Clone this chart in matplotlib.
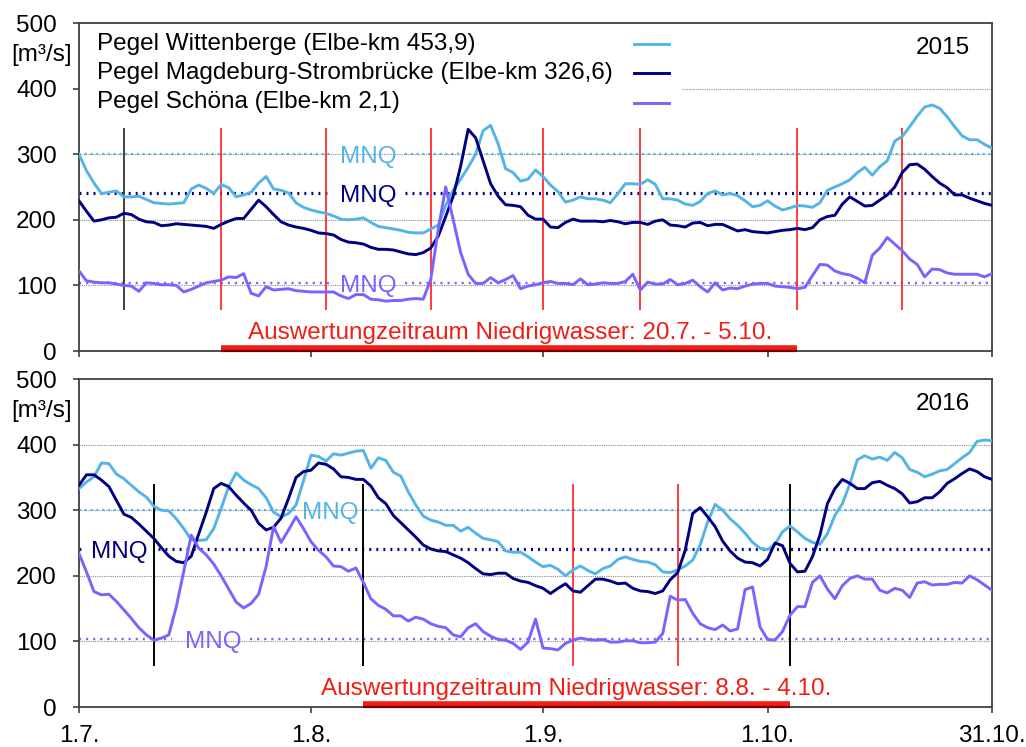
import numpy as np
import matplotlib
matplotlib.use("Agg")
import matplotlib.pyplot as plt
from matplotlib.lines import Line2D
import matplotlib.transforms as mtrans

plt.rcParams['font.family'] = ['Liberation Sans', 'DejaVu Sans']
plt.rcParams['font.size'] = 17.5

# Tage ab 1.7. (Tag 0) bis 31.10. (Tag 122)
tage = np.arange(123)
tick_pos = [0, 31, 62, 92, 122]
tick_lab = ['1.7.', '1.8.', '1.9.', '1.10.', '31.10.']

namen = ['Pegel Wittenberge (Elbe-km 453,9)',
         'Pegel Magdeburg-Strombrücke (Elbe-km 326,6)',
         'Pegel Schöna (Elbe-km 2,1)']
farben = ['#55B4E6', '#000080', '#7B63FF']
mnq = [300, 241, 103]

# Tagesabfluss 2015 [m3/s]
wit15 = [300, 275, 256, 240, 242, 244, 235, 235, 236, 231,
         226, 225, 224, 225, 226, 247, 253, 248, 240, 254,
         249, 235, 238, 242, 256, 266, 247, 245, 241, 226,
         219, 215, 212, 210, 206, 201, 200, 201, 203, 196,
         190, 188, 186, 184, 181, 180, 180, 186, 192, 222,
         245, 262, 280, 300, 336, 344, 316, 278, 272, 259,
         262, 276, 266, 253, 243, 227, 230, 235, 232, 232,
         230, 226, 240, 255, 255, 254, 261, 254, 232, 232,
         230, 224, 222, 228, 240, 244, 238, 240, 237, 229,
         220, 222, 229, 221, 215, 218, 222, 221, 219, 226,
         245, 250, 255, 261, 272, 280, 268, 281, 290, 320,
         327, 342, 358, 372, 375, 370, 357, 342, 328, 322,
         322, 315, 309]
mag15 = [229, 213, 198, 200, 203, 204, 210, 208, 201, 197,
         196, 191, 192, 194, 193, 192, 191, 190, 187, 193,
         198, 202, 202, 216, 230, 220, 208, 197, 192, 189,
         187, 184, 180, 179, 177, 170, 166, 165, 163, 158,
         155, 155, 154, 151, 148, 147, 150, 157, 175, 205,
         236, 282, 338, 325, 290, 255, 236, 223, 222, 220,
         207, 201, 201, 189, 188, 196, 201, 198, 198, 198,
         197, 199, 197, 194, 196, 196, 193, 198, 200, 192,
         191, 189, 195, 196, 191, 193, 193, 188, 183, 185,
         182, 181, 180, 182, 184, 185, 187, 185, 188, 200,
         205, 207, 224, 235, 228, 221, 222, 230, 238, 250,
         272, 284, 285, 277, 266, 256, 249, 238, 238, 233,
         229, 225, 222]
sch15 = [122, 107, 105, 104, 104, 102, 100, 99, 91, 104,
         103, 101, 101, 100, 90, 94, 99, 104, 106, 108,
         113, 112, 118, 88, 84, 98, 93, 94, 95, 92,
         91, 90, 90, 90, 90, 84, 80, 86, 86, 79,
         78, 76, 77, 77, 79, 80, 79, 109, 185, 250,
         200, 150, 117, 103, 103, 112, 104, 109, 115, 95,
         99, 101, 104, 106, 103, 103, 101, 110, 101, 102,
         104, 103, 103, 106, 117, 93, 105, 102, 102, 109,
         101, 103, 108, 98, 90, 104, 93, 96, 95, 99,
         102, 103, 103, 99, 98, 97, 95, 97, 115, 132,
         131, 122, 118, 116, 111, 104, 146, 157, 173, 163,
         153, 140, 132, 113, 125, 124, 119, 117, 117, 117,
         117, 113, 118]

# Tagesabfluss 2016 [m3/s]
wit16 = [333, 343, 351, 372, 371, 355, 348, 338, 328, 320,
         306, 300, 299, 287, 272, 255, 254, 255, 272, 303,
         336, 357, 346, 339, 333, 319, 297, 290, 295, 308,
         345, 384, 382, 375, 386, 384, 387, 390, 391, 364,
         380, 376, 358, 352, 328, 308, 291, 285, 282, 277,
         277, 268, 274, 265, 257, 255, 252, 238, 236, 236,
         229, 221, 214, 216, 210, 200, 209, 215, 208, 203,
         211, 215, 225, 229, 225, 222, 221, 217, 206, 205,
         209, 215, 224, 247, 282, 309, 300, 287, 277, 265,
         251, 242, 240, 248, 267, 276, 267, 257, 251, 248,
         264, 292, 310, 340, 377, 383, 378, 381, 376, 388,
         380, 362, 358, 351, 355, 360, 362, 371, 380, 388,
         405, 407, 406]
mag16 = [338, 354, 354, 346, 336, 315, 294, 289, 279, 268,
         257, 243, 230, 222, 220, 230, 264, 297, 333, 341,
         336, 323, 311, 300, 280, 270, 274, 288, 318, 350,
         359, 361, 372, 370, 363, 351, 350, 347, 347, 337,
         319, 310, 292, 281, 270, 259, 247, 241, 238, 237,
         232, 227, 220, 211, 203, 202, 204, 204, 196, 192,
         190, 185, 181, 173, 181, 188, 177, 175, 185, 195,
         195, 192, 188, 189, 181, 177, 176, 173, 177, 194,
         205, 239, 295, 304, 290, 275, 253, 238, 227, 221,
         220, 215, 225, 250, 246, 219, 206, 207, 229, 262,
         310, 333, 347, 341, 333, 333, 342, 344, 338, 333,
         325, 311, 313, 319, 319, 328, 341, 348, 356, 363,
         359, 351, 347]
sch16 = [234, 206, 176, 171, 172, 161, 148, 135, 121, 110,
         102, 105, 110, 153, 207, 262, 242, 232, 218, 200,
         180, 160, 151, 158, 172, 214, 275, 251, 270, 290,
         272, 252, 239, 229, 215, 214, 207, 212, 190, 165,
         155, 149, 139, 139, 131, 137, 134, 127, 123, 121,
         110, 107, 121, 127, 115, 108, 103, 102, 97, 88,
         99, 134, 90, 89, 87, 97, 102, 105, 103, 102,
         103, 99, 99, 101, 101, 98, 98, 99, 112, 169,
         163, 164, 143, 127, 121, 118, 125, 116, 119, 179,
         183, 122, 103, 102, 115, 140, 153, 153, 190, 200,
         180, 165, 185, 196, 200, 195, 195, 178, 174, 181,
         178, 167, 189, 191, 186, 187, 187, 190, 189, 200,
         194, 186, 178]

# Messtermine (senkrechte Linien), Auswertungszeitraum
rot15, schwarz15 = [19, 33, 47, 62, 75, 96, 110], [6]
rot16, schwarz16 = [66, 80], [10, 38, 95]
zeitraum15, zeitraum16 = (19, 96), (38, 95)
text15 = 'Auswertungzeitraum Niedrigwasser: 20.7. - 5.10.'
text16 = 'Auswertungzeitraum Niedrigwasser: 8.8. - 4.10.'
# MNQ-Beschriftung: (Tag der Beschriftung, Lücke von, Lücke bis)
mnq15 = [(38.7, 33.8, 43.6), (38.7, 33.8, 43.6), (38.7, 33.8, 43.6)]
mnq16 = [(33.6, 29.3, 38.2), (5.4, 0.8, 10.6), (18.0, 12.4, 22.9)]

mnq_stil = [dict(lw=1.6, ls=(0, (0.9, 1.7))),
            dict(lw=2.3, ls=(0, (0.6, 1.6))),
            dict(lw=1.7, ls=(0, (0.9, 2.1)))]

fig = plt.figure(figsize=(10.26, 7.47), dpi=100)
ax1 = fig.add_axes([0.0770, 0.5301, 0.8899, 0.4391])
ax2 = fig.add_axes([0.0770, 0.0535, 0.8899, 0.4391])


def panel(ax, reihen, jahr, mnq_pos, rote, schwarze, schwarz_farbe, zeitraum, text, text_x, mit_legende):
    ax.set_xlim(0, 122)
    ax.set_ylim(0, 500)
    for s in ax.spines.values():
        s.set_color('#404040')
        s.set_linewidth(1.3)
    ax.set_xticks(tick_pos)
    ax.set_yticks(range(0, 501, 100))
    ax.tick_params(direction='out', length=4, width=1.2, color='#404040')
    ax.tick_params(axis='y', pad=12)
    ax.tick_params(axis='x', pad=9)

    # Gitterlinien
    for g in [100, 200, 300, 400]:
        xmin = 0.66 if (mit_legende and g == 400) else 0
        ax.axhline(g, xmin=xmin, color='#8c8c8c', lw=0.8, ls=(0, (1, 1)), zorder=1)

    # MNQ-Linien mit Beschriftung
    for wert, farbe, stil, (lx, g0, g1) in zip(mnq, farben, mnq_stil, mnq_pos):
        ax.plot([0, g0], [wert, wert], color=farbe, zorder=2, **stil)
        ax.plot([g1, 122], [wert, wert], color=farbe, zorder=2, **stil)
        ax.annotate('MNQ', (lx, wert), xytext=(0, -6.3), textcoords='offset points',
                    ha='center', va='baseline', color=farbe, zorder=3)

    ax.vlines(rote, 63, 340, color='#FF1A1A', lw=1.2, zorder=3)
    ax.vlines(schwarze, 63, 340, color=schwarz_farbe, lw=1.4, zorder=3)

    for werte, farbe in zip(reihen, farben):
        ax.plot(tage, werte, color=farbe, lw=2.1, zorder=4)

    # Auswertungszeitraum
    ax.plot(zeitraum, [4, 4], color='#F01E14', lw=4.0, solid_capstyle='butt', clip_on=False, zorder=5)
    ax.plot(zeitraum, [0, 0], color='#7A0000', lw=1.6, solid_capstyle='butt', clip_on=False, zorder=5)
    ax.text(text_x, 19, text, color='#F01E14', ha='left', va='baseline', zorder=5)

    ax.text(0.976, 0.924, jahr, transform=ax.transAxes, ha='right', va='center')
    trans = mtrans.blended_transform_factory(ax.transAxes, ax.transData)
    ax.text(-0.0077, 451, '[m³/s]', transform=trans, ha='right', va='center')

    if mit_legende:
        for name, farbe, yb, yl in zip(namen, farben, [0.918, 0.829, 0.740], [0.935, 0.847, 0.757]):
            ax.text(0.0197, yb, name, transform=ax.transAxes, ha='left', va='baseline')
            ax.add_line(Line2D([0.608, 0.646], [yl, yl], transform=ax.transAxes, color=farbe, lw=2.1))


panel(ax1, [wit15, mag15, sch15], '2015', mnq15, rot15, schwarz15, '#404040',
      zeitraum15, text15, 22.6, True)
ax1.set_xticklabels([])
panel(ax2, [wit16, mag16, sch16], '2016', mnq16, rot16, schwarz16, '#000000',
      zeitraum16, text16, 32.4, False)
ax2.set_xticklabels(tick_lab)

fig.savefig('out.png', dpi=100)
